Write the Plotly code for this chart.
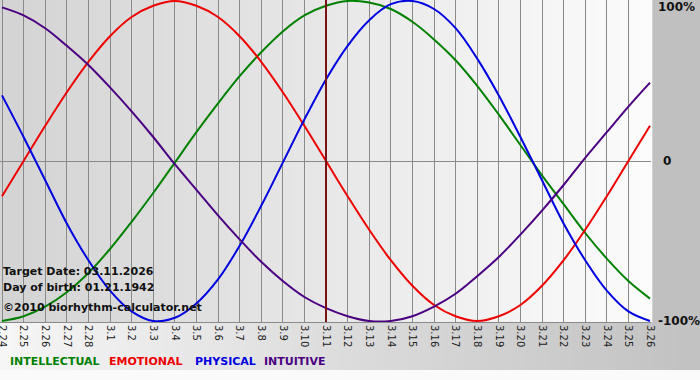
import plotly.graph_objects as go

dates = ["2.24", "2.25", "2.26", "2.27", "2.28", "3.1", "3.2", "3.3", "3.4", "3.5",
         "3.6", "3.7", "3.8", "3.9", "3.10", "3.11", "3.12", "3.13", "3.14", "3.15",
         "3.16", "3.17", "3.18", "3.19", "3.20", "3.21", "3.22", "3.23", "3.24", "3.25", "3.26"]

intellectual = [-100, -97, -91, -82, -70, -55, -38, -20, -1, 18, 36, 53, 68, 81, 91, 97,
                100, 99, 95, 87, 76, 63, 47, 29, 10, -9, -27, -45, -61, -75, -86]
emotional = [-22, 0, 22, 43, 62, 78, 90, 97, 100, 97, 90, 78, 62, 43, 22, 0,
             -22, -43, -62, -78, -90, -97, -100, -97, -90, -78, -62, -43, -22, 0, 22]
physical = [41, 15, -12, -39, -62, -81, -94, -100, -98, -89, -74, -53, -28, -1, 26, 51,
            72, 88, 98, 100, 95, 83, 64, 41, 15, -12, -39, -62, -81, -94, -100]
intuitive = [96, 91, 83, 72, 60, 46, 31, 15, -2, -18, -34, -49, -63, -75, -85, -92,
             -97, -100, -100, -97, -91, -83, -72, -60, -46, -31, -15, 2, 18, 34, 49]

series_names = ["INTELLECTUAL", "EMOTIONAL", "PHYSICAL", "INTUITIVE"]
series_colors = ["#008000", "#ee0000", "#0000e0", "#4b0082"]
target_label = "3.11"
info_lines = ["Target Date: 03.11.2026", "Day of birth: 01.21.1942", "\u00a92010 biorhythm-calculator.net"]
y_labels = [(100, "100%"), (0, "0"), (-100, "-100%")]

W, H = 700, 380
L, R, T, B = 0, 49, 0, 58
plot_w = W - L - R
plot_h = H - T - B
px_per_day = 21.6
x0r = -2 / px_per_day
x1r = x0r + plot_w / px_per_day
yr = plot_h / 2 / 1.6

fig = go.Figure()
idx = list(range(len(dates)))
for name, vals, col in zip(series_names, [intellectual, emotional, physical, intuitive], series_colors):
    fig.add_trace(go.Scatter(x=idx, y=vals, mode="lines", line=dict(color=col, width=2, shape="spline", smoothing=1.0),
                             name=name, showlegend=False, hoverinfo="skip", cliponaxis=True))

shapes = []
N = 60
for k in range(N):
    t = k / (N - 1)
    c = int(212 + (252 - 212) * t)
    shapes.append(dict(type="rect", xref="paper", yref="paper", x0=k / N, x1=(k + 1) / N + 0.002, y0=0, y1=1,
                       fillcolor=f"rgb({c},{c},{c})", line=dict(width=0), layer="below"))
sb = -48 / plot_h
for k in range(N):
    t = k / (N - 1)
    c = int(246 + (194 - 246) * t)
    shapes.append(dict(type="rect", xref="paper", yref="paper", x0=k / N * (W / plot_w), x1=(k + 1) / N * (W / plot_w) + 0.002,
                       y0=sb, y1=0, fillcolor=f"rgb({c},{c},{c})", line=dict(width=0), layer="below"))
shapes.append(dict(type="rect", xref="paper", yref="paper", x0=0, x1=W / plot_w, y0=-B / plot_h - 0.01, y1=sb,
                   fillcolor="#fafafa", line=dict(width=0), layer="below"))
ti = dates.index(target_label)
shapes.append(dict(type="line", xref="x", yref="paper", x0=ti, x1=ti, y0=0, y1=1,
                   line=dict(color="#7a1414", width=2), layer="above"))
fig.update_layout(shapes=shapes)

annotations = []
for yv, txt in y_labels:
    ya = 96 if yv == 100 else yv
    annotations.append(dict(x=1.0, xref="paper", y=ya, yref="y", text=f"<b>{txt}</b>", showarrow=False,
                            xanchor="left", xshift=5 if txt != "0" else 10,
                            font=dict(family="DejaVu Sans", size=12, color="#111111")))
info_y = [271, 287, 307]
for txt, py in zip(info_lines, info_y):
    annotations.append(dict(x=0, xref="paper", y=(plot_h - py) / plot_h, yref="paper", text=f"<b>{txt}</b>",
                            showarrow=False, xanchor="left", yanchor="middle", xshift=1,
                            font=dict(family="DejaVu Sans", size=11, color="#111111")))
leg_x = [8, 107, 193, 262]
for name, col, lx in zip(series_names, series_colors, leg_x):
    annotations.append(dict(x=lx / plot_w, xref="paper", y=(plot_h - 361) / plot_h, yref="paper",
                            text=f"<b>{name}</b>", showarrow=False, xanchor="left", yanchor="middle",
                            font=dict(family="DejaVu Sans", size=11, color=col)))
fig.update_layout(annotations=annotations)

fig.update_layout(
    width=W, height=H,
    margin=dict(l=L, r=R, t=T, b=B, pad=0, autoexpand=False),
    paper_bgcolor="#c0c0c0",
    plot_bgcolor="rgba(0,0,0,0)",
    xaxis=dict(range=[x0r, x1r], tickmode="array", tickvals=idx, ticktext=dates, tickangle=90,
               showgrid=True, gridcolor="#8a8a8a", gridwidth=1, zeroline=False, ticks="", automargin=False,
               ticklabeloverflow="allow",
               tickfont=dict(family="DejaVu Sans", size=10, color="#222222"),
               showline=True, linecolor="#8a8a8a", linewidth=1, mirror=True, fixedrange=True),
    yaxis=dict(range=[-yr, yr], showticklabels=False, showgrid=False, zeroline=True, automargin=False,
               zerolinecolor="#8a8a8a", zerolinewidth=1, fixedrange=True),
)

fig.write_html("out.html", config={"displayModeBar": False},
               post_script="document.body.style.margin='0';document.body.style.overflow='hidden';")
